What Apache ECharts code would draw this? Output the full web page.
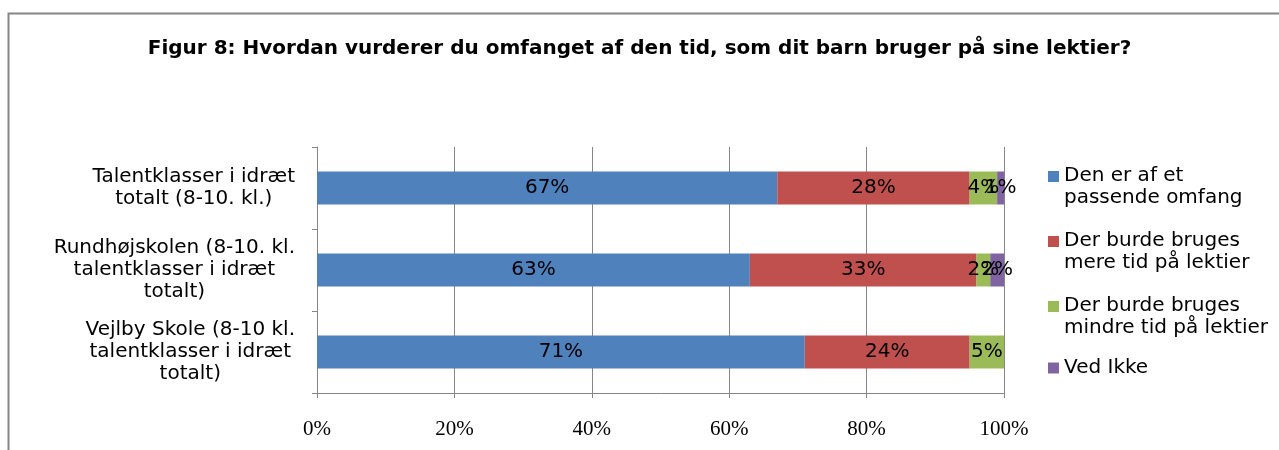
<!DOCTYPE html>
<html>
<head>
<meta charset="utf-8">
<script src="https://cdn.jsdelivr.net/npm/echarts@6/dist/echarts.min.js"></script>
<style>
html, body { margin: 0; padding: 0; background: #fff; }
#chart { width: 1279px; height: 450px; }
</style>
</head>
<body>
<div id="chart"></div>
<script>
var categories = [
	'Talentklasser i idræt\ntotalt (8-10. kl.)',
	'Rundhøjskolen (8-10. kl.\ntalentklasser i idræt\ntotalt)',
	'Vejlby Skole (8-10 kl.\ntalentklasser i idræt\ntotalt)'
];
var seriesNames = [
	'Den er af et\npassende omfang',
	'Der burde bruges\nmere tid på lektier',
	'Der burde bruges\nmindre tid på lektier',
	'Ved Ikke'
];
var passende = [67, 63, 71];
var mere = [28, 33, 24];
var mindre = [4, 2, 5];
var vedIkke = [1, 2, 0];
var xTicks = [0, 20, 40, 60, 80, 100];

var colors = ['#4F81BD', '#C0504D', '#9BBB59', '#8064A2'];
var values = [passende, mere, mindre, vedIkke];
var font = 'DejaVu Sans';

var series = [];
for (var i = 0; i < values.length; i++) {
	series.push({
		name: seriesNames[i],
		type: 'bar',
		stack: 'total',
		barWidth: 33,
		itemStyle: { color: colors[i] },
		label: {
			show: true,
			position: 'inside',
			color: '#000',
			fontFamily: font,
			fontSize: 20,
			formatter: function (p) { return p.value ? p.value + '%' : ''; }
		},
		data: values[i]
	});
}

// one legend per item so each sits where Excel put it;
// the square is drawn at the top of a tall icon box so it lines up with the first text line
var legendTops = [160, 225, 290, 352];
var legends = [];
for (var j = 0; j < seriesNames.length; j++) {
	var twoLines = seriesNames[j].indexOf('\n') >= 0;
	legends.push({
		orient: 'vertical',
		left: 1043,
		top: legendTops[j],
		itemWidth: 11,
		itemHeight: twoLines ? 32 : 11,
		icon: twoLines ? 'path://M0,0L11,0L11,11L0,11Z M0,32L0.01,32' : 'rect',
		data: [seriesNames[j]],
		textStyle: { fontFamily: font, fontSize: 20, color: '#000', lineHeight: 22 }
	});
}

var myChart = echarts.init(document.getElementById('chart'));
myChart.setOption({
	backgroundColor: '#fff',
	animation: false,
	title: {
		text: 'Figur 8: Hvordan vurderer du omfanget af den tid, som dit barn bruger på sine lektier?',
		left: 'center',
		top: 34,
		textStyle: { fontFamily: font, fontWeight: 'bold', fontSize: 20, color: '#000' }
	},
	graphic: [{
		type: 'rect',
		shape: { x: 8.5, y: 13.5, width: 1400, height: 600 },
		style: { fill: 'none', stroke: '#868686', lineWidth: 2 }
	}],
	legend: legends,
	grid: { left: 317, right: 275, top: 147, bottom: 57 },
	xAxis: {
		type: 'value',
		min: 0,
		max: 100,
		interval: 20,
		axisLine: { show: true, lineStyle: { color: '#868686' } },
		axisTick: { show: true, length: 5, lineStyle: { color: '#868686' } },
		splitLine: { show: true, lineStyle: { color: '#868686' } },
		axisLabel: {
			margin: 26,
			fontFamily: 'Liberation Serif',
			fontSize: 21,
			color: '#000',
			formatter: function (v) { return xTicks.indexOf(v) >= 0 ? v + '%' : ''; }
		}
	},
	yAxis: {
		type: 'category',
		inverse: true,
		data: categories,
		axisLine: { show: true, lineStyle: { color: '#868686' } },
		axisTick: { show: true, length: 5, lineStyle: { color: '#868686' } },
		axisLabel: {
			margin: 22,
			align: 'right',
			formatter: function (v) {
				return v.split('\n').map(function (s) { return '{c|' + s + '}'; }).join('\n');
			},
			rich: {
				c: { align: 'center', fontFamily: font, fontSize: 20, color: '#000', lineHeight: 22 }
			}
		}
	},
	series: series
});
</script>
</body>
</html>
